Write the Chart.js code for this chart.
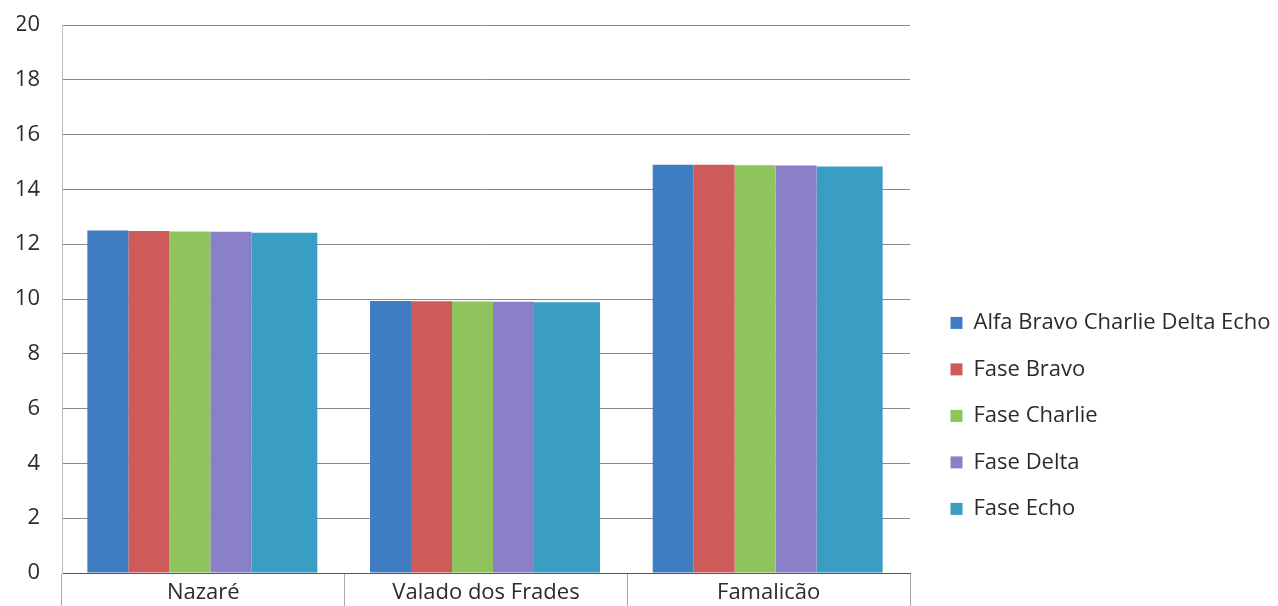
<!DOCTYPE html>
<html>
<head>
<meta charset="utf-8">
<script src="https://cdn.jsdelivr.net/npm/chart.js@4/dist/chart.umd.min.js"></script>
<style>
    html, body { margin: 0; padding: 0; background: #fff; overflow: hidden; }
    #wrap { width: 1278px; height: 606px; }
</style>
</head>
<body>
<div id="wrap"><canvas id="barChart"></canvas></div>
<script>
const categories = ['Nazaré', 'Valado dos Frades', 'Famalicão'];
const seriesNames = ['Alfa Bravo Charlie Delta Echo', 'Fase Bravo', 'Fase Charlie', 'Fase Delta', 'Fase Echo'];
const alfaValues = [12.5, 9.93, 14.9];
const bravoValues = [12.48, 9.92, 14.9];
const charlieValues = [12.46, 9.91, 14.88];
const deltaValues = [12.45, 9.9, 14.87];
const echoValues = [12.42, 9.88, 14.84];
const yTicks = [0, 2, 4, 6, 8, 10, 12, 14, 16, 18, 20];

const colors = ['#3f7dc3', '#cc5b5a', '#8fc35c', '#8a80c8', '#3a9dc3'];
// per-series slot sizes, so the last bar comes out wider like in the original
const catPct = [0.8107, 0.7711, 0.573, 1.167, 1.146];
const barPct = [1.073, 1.1285, 1.518, 0.745, 1.222];

const fontFamily = '"Open Sans", sans-serif';
const textColor = '#2b2b2b';

function buildChart() {
    const allValues = [alfaValues, bravoValues, charlieValues, deltaValues, echoValues];
    const datasets = allValues.map((vals, i) => ({
        label: seriesNames[i],
        data: vals,
        backgroundColor: colors[i],
        borderWidth: 0,
        categoryPercentage: catPct[i],
        barPercentage: barPct[i]
    }));
    // empty sixth slot (not in legend)
    datasets.push({
        label: '',
        data: categories.map(() => 0),
        backgroundColor: 'rgba(0,0,0,0)',
        borderWidth: 0
    });

    const ctx = document.getElementById('barChart').getContext('2d');
    new Chart(ctx, {
        type: 'bar',
        data: { labels: categories, datasets: datasets },
        options: {
            responsive: true,
            maintainAspectRatio: false,
            animation: false,
            layout: { padding: { top: 0, left: 17, right: 0, bottom: 0 } },
            scales: {
                x: {
                    grid: {
                        drawOnChartArea: false,
                        drawTicks: true,
                        tickLength: 40,
                        color: '#a8a8a8'
                    },
                    border: { color: '#555', width: 1 },
                    ticks: {
                        padding: -33,
                        color: textColor,
                        font: { family: fontFamily, size: 22 }
                    },
                    afterFit: axis => { axis.height = 33; }
                },
                y: {
                    min: 0,
                    max: 20,
                    afterBuildTicks: axis => { axis.ticks = yTicks.map(v => ({ value: v })); },
                    grid: { color: '#8a8a8a', drawTicks: false },
                    border: { color: '#bdbdbd', width: 1 },
                    ticks: {
                        padding: 22,
                        color: textColor,
                        font: { family: fontFamily, size: 22 }
                    },
                    afterFit: axis => {
                        axis.width = 45;
                        axis.paddingTop = 25;
                        axis.paddingBottom = 33;
                    }
                },
                // blank strip between plot and legend
                gap: {
                    type: 'linear',
                    position: 'right',
                    grid: { display: false },
                    border: { display: false },
                    ticks: { display: false },
                    afterFit: axis => { axis.width = 16; }
                }
            },
            plugins: {
                tooltip: { enabled: false },
                legend: {
                    position: 'right',
                    align: 'start',
                    maxWidth: 352,
                    title: { display: true, text: '', padding: { top: 273, bottom: 0 } },
                    labels: {
                        boxWidth: 12,
                        boxHeight: 12,
                        padding: 24.5,
                        color: textColor,
                        font: { family: fontFamily, size: 22 },
                        filter: item => item.text !== ''
                    }
                }
            }
        }
    });
}

Promise.all([
    document.fonts.load('20px "Open Sans"'),
    document.fonts.load('22px "Open Sans"')
]).then(buildChart, buildChart);
</script>
</body>
</html>
